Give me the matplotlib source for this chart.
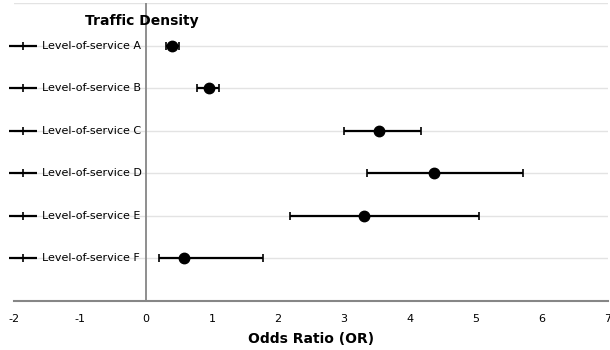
import matplotlib
matplotlib.use("Agg")
import matplotlib.pyplot as plt

categories = ["Level-of-service A", "Level-of-service B", "Level-of-service C",
              "Level-of-service D", "Level-of-service E", "Level-of-service F"]
odds_ratio = [0.39, 0.95, 3.53, 4.37, 3.31, 0.58]
ci_low = [0.31, 0.78, 3.00, 3.35, 2.18, 0.19]
ci_high = [0.50, 1.11, 4.17, 5.71, 5.05, 1.77]
xticks = [-2, -1, 0, 1, 2, 3, 4, 5, 6, 7]
label_x = -1.86
label_half = 0.21

fig = plt.figure(figsize=(6.1, 3.5), dpi=100)
ax = fig.add_axes([14/610, 49/350, 594/610, 298/350])
ax.set_xlim(-2, 7)
ax.set_ylim(0, 7)

n = len(categories)
ypos = [n - i for i in range(n)]

for y in range(1, 8):
    ax.axhline(y, color="#e3e3e3", lw=1, zorder=0)
ax.axvline(0, color="#868686", lw=1.3, zorder=1)
for s in ["top", "right", "left"]:
    ax.spines[s].set_visible(False)
ax.spines["bottom"].set_color("#868686")
ax.spines["bottom"].set_linewidth(1.5)

xerr = [[o - l for o, l in zip(odds_ratio, ci_low)],
        [h - o for o, h in zip(odds_ratio, ci_high)]]
ax.errorbar(odds_ratio, ypos, xerr=xerr, fmt="o", color="black", ms=7.5,
            elinewidth=1.6, capsize=2.8, capthick=1.2, zorder=3)

# category label markers on the left
ax.errorbar([label_x]*n, ypos, xerr=label_half, fmt="+", color="black", ms=6,
            mew=1.2, elinewidth=1.6, capsize=0, zorder=3, clip_on=False)
for c, y in zip(categories, ypos):
    ax.text(label_x + label_half + 0.08, y, c, va="center", ha="left",
            fontsize=8, family="DejaVu Sans", color="black")

ax.set_xticks(xticks)
ax.set_xticklabels([str(t) for t in xticks], fontsize=8, color="black")
ax.tick_params(axis="x", length=0, pad=9)
ax.set_yticks([])

ax.text(-0.06, 6.58, "Traffic Density", ha="center", va="center",
        fontsize=10, fontweight="bold")
ax.set_xlabel("Odds Ratio (OR)", fontsize=10, fontweight="bold")
ax.xaxis.set_label_coords((2.5 + 2) / 9, -0.105)

fig.savefig("out.png", dpi=100)
